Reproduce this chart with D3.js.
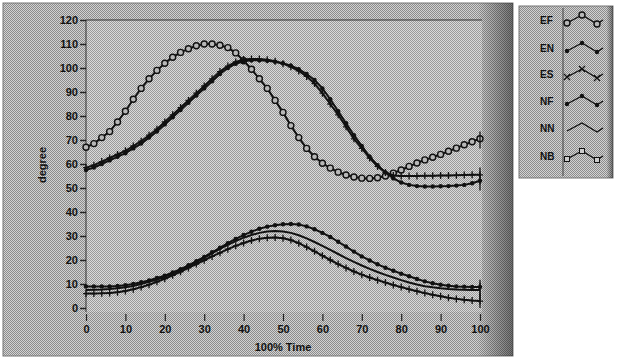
<!DOCTYPE html>
<html>
<head>
<meta charset="utf-8">
<script src="https://cdn.jsdelivr.net/npm/d3@7"></script>
<style>
  body { margin: 0; background: #fff; }
  svg text { font-family: "Liberation Sans", Arial, sans-serif; font-weight: bold; fill: #111; }
</style>
</head>
<body>
<svg id="chart" width="627" height="359"></svg>
<script>
// percent of time
var timePct = [0,2,4,6,8,10,12,14,16,18,20,22,24,26,28,30,32,34,36,38,40,42,44,46,48,50,
  52,54,56,58,60,62,64,66,68,70,72,74,76,78,80,82,84,86,88,90,92,94,96,98,100];

var seriesNames = ["EF", "EN", "ES", "NF", "NN", "NB"];

var efValues = [67,68.5,71,73.5,77.5,82,87,91.5,95.5,99,102,104.5,106.5,108,109.3,110,110,109.5,108.5,106.3,
  103,99.5,95.5,91.5,86.5,81.5,76,71,66.5,63,60.3,58.3,56.6,55.4,54.6,54.1,54,54.3,55,56.2,
  57.5,59,60.4,61.7,62.8,64,65.3,66.6,68,69.3,70.5];
var enValues = [57.5,58.5,60,61.5,63,64.5,66.5,68.5,71,73.5,76.5,79.5,82.5,85.5,88.5,91.5,94.5,97.5,100,101.8,
  102.8,103.2,103.2,103,102.6,102,101,99.5,97.5,95,91.5,87,82,77,72,67.5,63,59.5,56.5,54,
  52.3,51.3,50.8,50.6,50.6,50.7,50.8,51,51.3,52,53];
var esValues = [58.5,59.5,61,62.5,64,65.5,67.5,69.5,72,74.5,77.5,80.5,83.5,86.5,89.5,92.5,95.5,98.5,100.8,102.5,
  103.5,103.8,103.7,103.4,102.8,101.8,100.5,98.8,96.5,93.5,89.5,85,80.5,75.5,70.5,66.5,62.5,59,56.5,55.2,
  55,55,55,55.1,55.1,55.2,55.2,55.3,55.4,55.5,55.5];
var nfValues = [9,9,9,9,9.2,9.5,10,10.7,11.5,12.5,13.5,14.8,16.2,17.8,19.5,21.3,23.2,25.1,27,28.8,
  30.4,31.8,33,33.9,34.5,34.9,35,34.8,34,32.8,31.3,29.6,27.6,25.6,23.5,21.5,19.8,18.2,16.8,15.5,
  14.3,13.2,12.1,11.1,10.3,9.7,9.3,9,8.9,8.8,8.8];
var nnValues = [7.5,7.6,7.7,7.9,8.2,8.6,9.2,10,10.9,11.9,13,14.3,15.8,17.4,19.1,20.9,22.8,24.6,26.3,27.9,
  29.3,30.4,31.3,31.9,32.1,31.9,31.3,30.3,29,27.5,25.9,24.2,22.5,20.8,19.2,17.7,16.3,15,13.8,12.7,
  11.6,10.6,9.8,9.1,8.6,8.2,7.9,7.7,7.6,7.5,7.5];
var nbValues = [6,6,6.1,6.3,6.6,7.1,7.8,8.7,9.7,10.9,12.2,13.6,15.1,16.7,18.3,19.9,21.5,23,24.5,25.9,
  27.1,28.1,28.9,29.3,29.4,29.1,28.3,27,25.4,23.6,21.8,20,18.3,16.7,15.2,13.9,12.7,11.6,10.6,9.6,
  8.7,7.8,7,6.2,5.5,4.9,4.3,3.8,3.4,3.1,2.9];

var xTicks = [0,10,20,30,40,50,60,70,80,90,100];
var yTicks = [0,10,20,30,40,50,60,70,80,90,100,110,120];

var svg = d3.select("#chart");
var defs = svg.append("defs");

// dithered grey like the scanned print
function ditherPattern(id, dark, light) {
  var p = defs.append("pattern").attr("id", id)
    .attr("width", 2).attr("height", 2).attr("patternUnits", "userSpaceOnUse");
  p.append("rect").attr("width", 2).attr("height", 2).attr("fill", light);
  p.append("rect").attr("width", 1).attr("height", 1).attr("fill", dark);
  p.append("rect").attr("x", 1).attr("y", 1).attr("width", 1).attr("height", 1).attr("fill", dark);
}
ditherPattern("panelDither", "#8c8c8c", "#d2d2d2");
ditherPattern("plotDither", "#9a9a9a", "#dadada");

var grad = defs.append("linearGradient").attr("id", "edge").attr("x1", 0).attr("x2", 1);
grad.append("stop").attr("offset", 0).attr("stop-color", "#000").attr("stop-opacity", 0);
grad.append("stop").attr("offset", 0.93).attr("stop-color", "#000").attr("stop-opacity", 0);
grad.append("stop").attr("offset", 1).attr("stop-color", "#000").attr("stop-opacity", 0.45);

// outer panel
svg.append("rect")
  .attr("x", 3).attr("y", 3).attr("width", 510).attr("height", 353)
  .attr("fill", "url(#panelDither)").attr("stroke", "#777");
svg.append("rect")
  .attr("x", 3).attr("y", 3).attr("width", 510).attr("height", 353)
  .attr("fill", "url(#edge)");

var margin = {left: 86, top: 20};

var x = d3.scaleLinear().domain([0, 100]).range([0, 394]);
var y = d3.scaleLinear().domain([0, 120]).range([288, 0]);

var g = svg.append("g").attr("transform", "translate(" + margin.left + "," + margin.top + ")");

g.append("rect")
  .attr("x", 0).attr("y", 0).attr("width", 396).attr("height", 292)
  .attr("fill", "url(#plotDither)");
g.append("path")
  .attr("d", "M0,292V0H396")
  .attr("fill", "none").attr("stroke", "#333").attr("stroke-width", 1);

// axes
var yAxis = g.append("g")
  .call(d3.axisLeft(y).tickValues(yTicks).tickSize(6).tickPadding(2));
yAxis.select(".domain").remove();
yAxis.selectAll("text").style("font-size", "11px");
yAxis.selectAll("line").attr("stroke", "#222").attr("stroke-width", 1.5);

var xAxis = g.append("g").attr("transform", "translate(0,294)")
  .call(d3.axisBottom(x).tickValues(xTicks).tickSize(7).tickPadding(4));
xAxis.select(".domain").remove();
xAxis.selectAll("text").style("font-size", "11px");
xAxis.selectAll("line").attr("stroke", "#222").attr("stroke-width", 1.2);

svg.append("text")
  .attr("x", margin.left + x(50)).attr("y", 351)
  .attr("text-anchor", "middle").style("font-size", "11px")
  .text("100% Time");

svg.append("text")
  .attr("transform", "translate(46,165) rotate(-90)")
  .attr("text-anchor", "middle").style("font-size", "11px")
  .text("degree");

// series
var allValues = [efValues, enValues, esValues, nfValues, nnValues, nbValues];
var markers = ["circle", "dot", "plus", "dot", "none", "plus"];

var line = d3.line()
  .x(function(d, i) { return x(timePct[i]); })
  .y(function(d) { return y(d); });

function drawMarker(sel, type, px, py) {
  if (type == "circle") {
    sel.append("circle").attr("cx", px).attr("cy", py).attr("r", 3)
      .attr("fill", "#b8b8b8").attr("stroke", "#111").attr("stroke-width", 1.4);
  } else if (type == "dot") {
    sel.append("circle").attr("cx", px).attr("cy", py).attr("r", 2.2)
      .attr("fill", "#111");
  } else if (type == "plus") {
    sel.append("path")
      .attr("d", "M" + (px - 3) + "," + py + "H" + (px + 3) + "M" + px + "," + (py - 3.5) + "V" + (py + 3.5))
      .attr("stroke", "#111").attr("stroke-width", 1.3);
  } else if (type == "square") {
    sel.append("rect").attr("x", px - 2.5).attr("y", py - 2.5).attr("width", 5).attr("height", 5)
      .attr("fill", "#ccc").attr("stroke", "#111").attr("stroke-width", 1);
  } else if (type == "cross") {
    sel.append("path")
      .attr("d", "M" + (px - 3) + "," + (py - 3) + "L" + (px + 3) + "," + (py + 3) + "M" + (px + 3) + "," + (py - 3) + "L" + (px - 3) + "," + (py + 3))
      .attr("stroke", "#111").attr("stroke-width", 1.2);
  }
}

allValues.forEach(function(vals, k) {
  var s = g.append("g").attr("class", "series-" + seriesNames[k]);
  s.append("path")
    .attr("d", line(vals))
    .attr("fill", "none").attr("stroke", "#111").attr("stroke-width", 2);
  vals.forEach(function(v, i) {
    drawMarker(s, markers[k], x(timePct[i]), y(v));
  });
  // end tick at last point
  var last = vals[vals.length - 1];
  s.append("line")
    .attr("x1", x(100)).attr("x2", x(100))
    .attr("y1", y(last + 3)).attr("y2", y(Math.max(0, last - 4)))
    .attr("stroke", "#111").attr("stroke-width", 1.3);
});

// legend
var legendMarkers = ["circle", "dot", "cross", "dot", "none", "square"];
var legendRows = [20, 48, 74, 101, 128, 156];

svg.append("rect")
  .attr("x", 519).attr("y", 6).attr("width", 94).attr("height", 172)
  .attr("fill", "url(#panelDither)").attr("stroke", "#777");
svg.append("rect")
  .attr("x", 519).attr("y", 6).attr("width", 94).attr("height", 172)
  .attr("fill", "url(#edge)");
svg.append("line")
  .attr("x1", 563).attr("x2", 563).attr("y1", 8).attr("y2", 176)
  .attr("stroke", "#444").attr("stroke-width", 1);

var lg = svg.append("g");
seriesNames.forEach(function(name, k) {
  var cy = legendRows[k];
  lg.append("text")
    .attr("x", 540).attr("y", cy + 4)
    .style("font-size", "10px")
    .text(name);
  var pts = [[567, cy + 3], [582, cy - 5], [597, cy + 4], [603, cy]];
  lg.append("path")
    .attr("d", d3.line()(pts))
    .attr("fill", "none").attr("stroke", "#111").attr("stroke-width", 1.4);
  pts.slice(0, 3).forEach(function(p) {
    drawMarker(lg, legendMarkers[k], p[0], p[1]);
  });
});
</script>
</body>
</html>
